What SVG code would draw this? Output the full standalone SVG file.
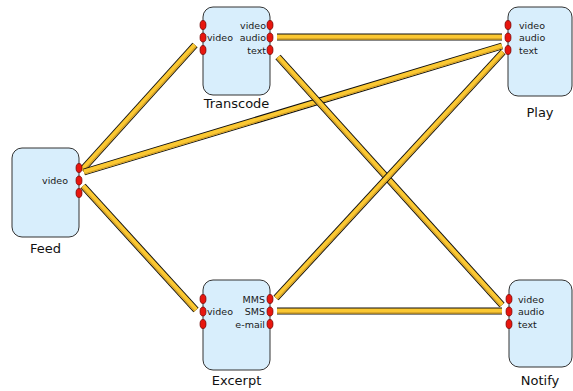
<svg xmlns="http://www.w3.org/2000/svg" xmlns:xlink="http://www.w3.org/1999/xlink" width="573" height="391" viewBox="0 0 573 391">
  <style>
    .box { fill: #d8eefc; stroke: #333; stroke-width: 1; }
    .port { fill: #e8160e; stroke: #6a0000; stroke-width: 0.7; }
    .pl { font-family: "DejaVu Sans", Verdana, sans-serif; font-size: 9.5px; fill: #1a1a1a; }
    .pr { font-family: "DejaVu Sans", Verdana, sans-serif; font-size: 9.5px; fill: #1a1a1a; text-anchor: end; }
    .title { font-family: "DejaVu Sans", Verdana, sans-serif; font-size: 13px; fill: #111; text-anchor: middle; }
    .edge-outline { stroke: #111; stroke-width: 7; fill: none; }
    .edge-fill { stroke: #fbc832; stroke-width: 5; fill: none; }
    .edge-shade { stroke: #d2a02a; stroke-width: 1.2; fill: none; }
  </style>
  <defs>
    <path id="e-feed-transcode" d="M82,170 L195,45"/>
    <path id="e-feed-play" d="M84,172 L502,46"/>
    <path id="e-feed-excerpt" d="M83,186 L196,310"/>
    <path id="e-transcode-play" d="M277,37 L502,37"/>
    <path id="e-transcode-notify" d="M278,57 L502,305"/>
    <path id="e-excerpt-play" d="M276,298 L503,52"/>
    <path id="e-excerpt-notify" d="M277,311 L502,311"/>
  </defs>

  <!-- connectors: dark outline, gold body, darker lower edge -->
  <g id="connectors">
    <use xlink:href="#e-feed-transcode" class="edge-outline"/>
    <use xlink:href="#e-feed-transcode" class="edge-fill"/>
    <use xlink:href="#e-feed-transcode" class="edge-shade" transform="translate(1.3,1.2)"/>

    <use xlink:href="#e-feed-play" class="edge-outline"/>
    <use xlink:href="#e-feed-play" class="edge-fill"/>
    <use xlink:href="#e-feed-play" class="edge-shade" transform="translate(0.5,1.8)"/>

    <use xlink:href="#e-feed-excerpt" class="edge-outline"/>
    <use xlink:href="#e-feed-excerpt" class="edge-fill"/>
    <use xlink:href="#e-feed-excerpt" class="edge-shade" transform="translate(-1.3,1.2)"/>

    <use xlink:href="#e-transcode-play" class="edge-outline"/>
    <use xlink:href="#e-transcode-play" class="edge-fill"/>
    <use xlink:href="#e-transcode-play" class="edge-shade" transform="translate(0,1.9)"/>

    <use xlink:href="#e-transcode-notify" class="edge-outline"/>
    <use xlink:href="#e-transcode-notify" class="edge-fill"/>
    <use xlink:href="#e-transcode-notify" class="edge-shade" transform="translate(-1.3,1.2)"/>

    <use xlink:href="#e-excerpt-play" class="edge-outline"/>
    <use xlink:href="#e-excerpt-play" class="edge-fill"/>
    <use xlink:href="#e-excerpt-play" class="edge-shade" transform="translate(1.3,1.2)"/>

    <use xlink:href="#e-excerpt-notify" class="edge-outline"/>
    <use xlink:href="#e-excerpt-notify" class="edge-fill"/>
    <use xlink:href="#e-excerpt-notify" class="edge-shade" transform="translate(0,1.9)"/>
  </g>

  <g id="transcode">
    <rect class="box" x="203" y="7" width="67" height="88" rx="10"/>
    <ellipse class="port" cx="203" cy="25" rx="3" ry="4.5"/>
    <ellipse class="port" cx="203" cy="37.5" rx="3" ry="4.5"/>
    <ellipse class="port" cx="203" cy="50" rx="3" ry="4.5"/>
    <ellipse class="port" cx="270" cy="25" rx="3" ry="4.5"/>
    <ellipse class="port" cx="270" cy="37.5" rx="3" ry="4.5"/>
    <ellipse class="port" cx="270" cy="50" rx="3" ry="4.5"/>
    <text class="pl" x="207" y="41">video</text>
    <text class="pr" x="266" y="28.5">video</text>
    <text class="pr" x="266" y="41">audio</text>
    <text class="pr" x="266" y="53.5">text</text>
    <text class="title" x="236.5" y="108">Transcode</text>
  </g>

  <g id="play">
    <rect class="box" x="508" y="7" width="64" height="89" rx="10"/>
    <ellipse class="port" cx="508" cy="25" rx="3" ry="4.5"/>
    <ellipse class="port" cx="508" cy="37.5" rx="3" ry="4.5"/>
    <ellipse class="port" cx="508" cy="50" rx="3" ry="4.5"/>
    <text class="pl" x="519" y="28.5">video</text>
    <text class="pl" x="519" y="41">audio</text>
    <text class="pl" x="519" y="53.5">text</text>
    <text class="title" x="540" y="117">Play</text>
  </g>

  <g id="feed">
    <rect class="box" x="12" y="148" width="67" height="89" rx="10"/>
    <ellipse class="port" cx="79" cy="168" rx="3" ry="4.5"/>
    <ellipse class="port" cx="79" cy="180.5" rx="3" ry="4.5"/>
    <ellipse class="port" cx="79" cy="193" rx="3" ry="4.5"/>
    <text class="pr" x="68" y="184">video</text>
    <text class="title" x="45.5" y="253">Feed</text>
  </g>

  <g id="excerpt">
    <rect class="box" x="203" y="280" width="67" height="90" rx="10"/>
    <ellipse class="port" cx="203" cy="299" rx="3" ry="4.5"/>
    <ellipse class="port" cx="203" cy="311.5" rx="3" ry="4.5"/>
    <ellipse class="port" cx="203" cy="324" rx="3" ry="4.5"/>
    <ellipse class="port" cx="270" cy="299" rx="3" ry="4.5"/>
    <ellipse class="port" cx="270" cy="311.5" rx="3" ry="4.5"/>
    <ellipse class="port" cx="270" cy="324" rx="3" ry="4.5"/>
    <text class="pl" x="207" y="315">video</text>
    <text class="pr" x="265" y="302.5">MMS</text>
    <text class="pr" x="265" y="315">SMS</text>
    <text class="pr" x="265" y="327.5">e-mail</text>
    <text class="title" x="236.5" y="385">Excerpt</text>
  </g>

  <g id="notify">
    <rect class="box" x="509" y="280" width="63" height="87" rx="10"/>
    <ellipse class="port" cx="509" cy="299" rx="3" ry="4.5"/>
    <ellipse class="port" cx="509" cy="311.5" rx="3" ry="4.5"/>
    <ellipse class="port" cx="509" cy="324" rx="3" ry="4.5"/>
    <text class="pl" x="518" y="302.5">video</text>
    <text class="pl" x="518" y="315">audio</text>
    <text class="pl" x="518" y="327.5">text</text>
    <text class="title" x="540" y="385">Notify</text>
  </g>
</svg>
